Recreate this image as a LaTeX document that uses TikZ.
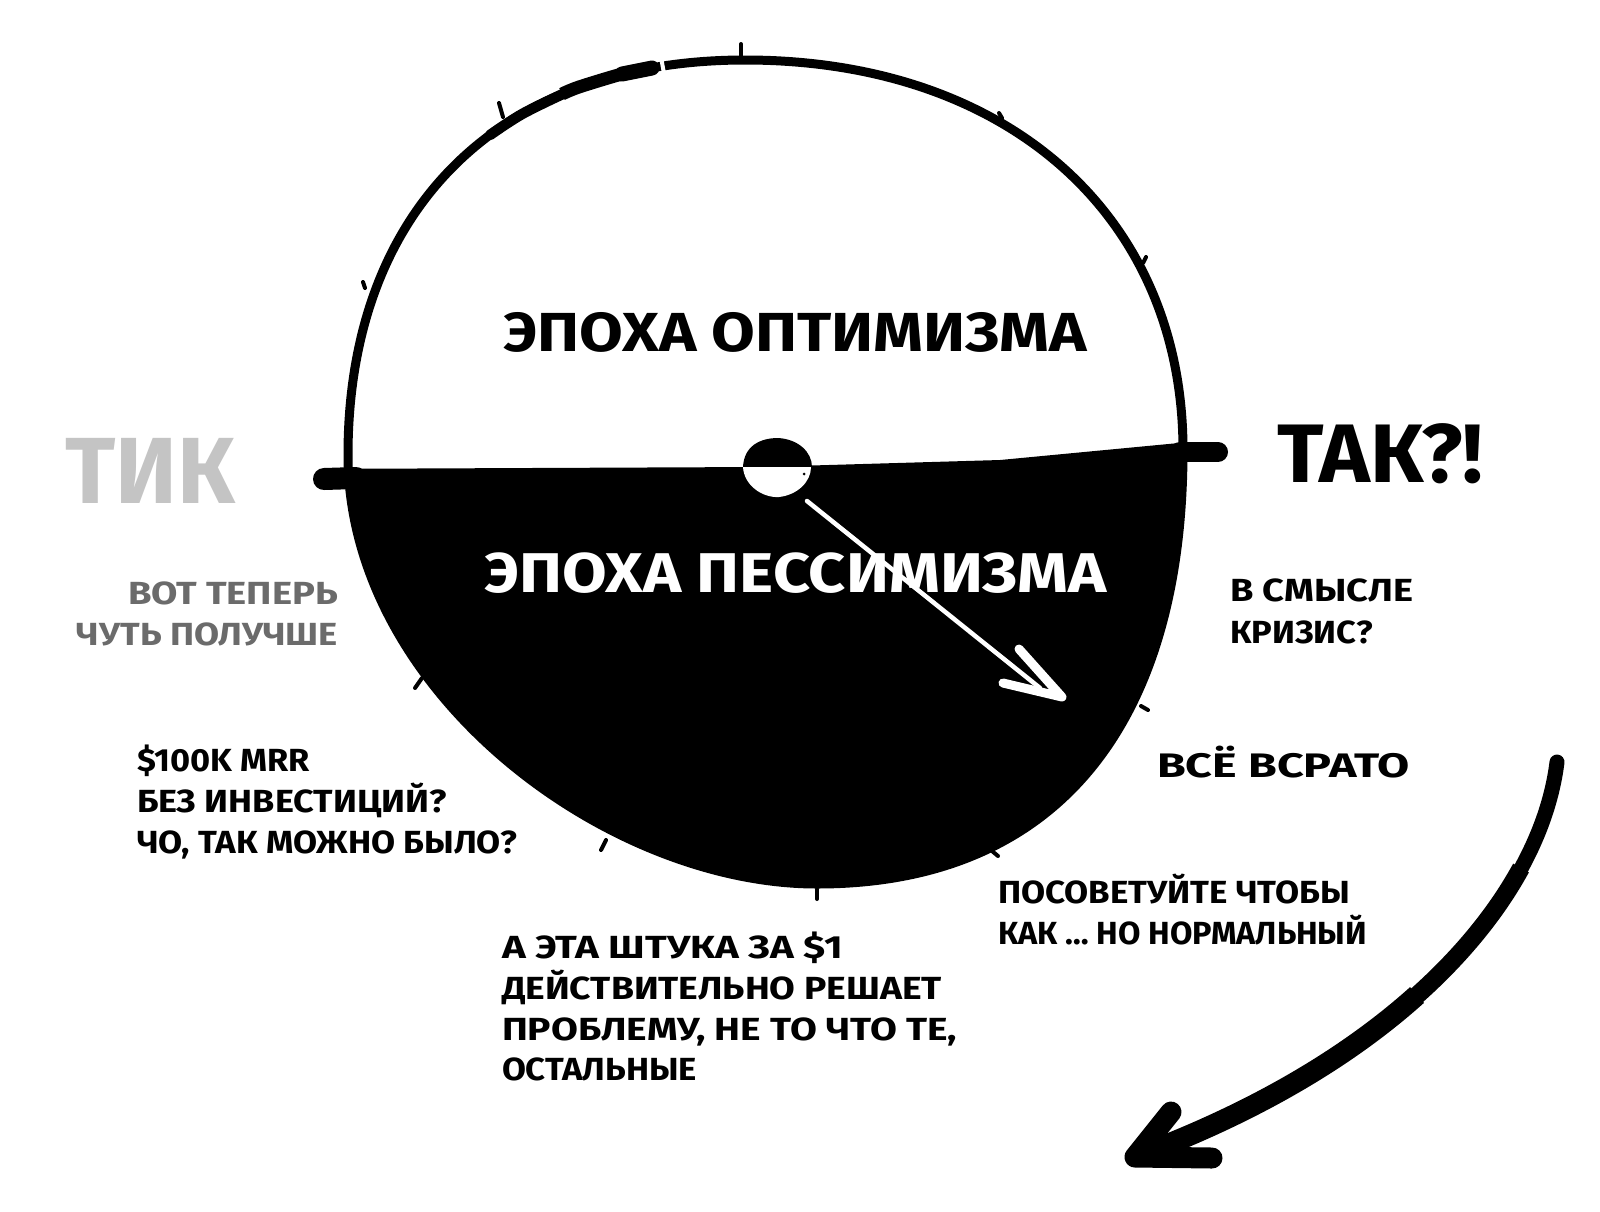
\documentclass[tikz,border=0pt]{standalone}
\usepackage{fontspec}
\setmainfont{Fira Sans}
\usepackage{graphicx}
\newcommand\fw[2]{\resizebox{#1pt}{\height}{#2}}
\definecolor{tikgray}{HTML}{C4C4C4}
\definecolor{midgray}{HTML}{6B6B6B}
\begin{document}
\begin{tikzpicture}[x=1pt,y=-1pt,
  lbl/.style={inner sep=0pt, outer sep=0pt, anchor=base west},
  small/.style={lbl, font=\fontsize{32}{41}\selectfont\bfseries},
  tk/.style={line width=4, line cap=round},
  rim/.style={line width=9, line cap=round, line join=round},
  brush/.style={line cap=round, line join=round}]
\fill[white] (0,0) rectangle (1600,1211);
\useasboundingbox (0,0) rectangle (1600,1211);

% black lower half
\begin{scope}
\clip (745,60) .. controls (1008,60) and (1183,216) .. (1183,450) .. controls (1183,720) and (1060,884) .. (817,884) .. controls (606,884) and (348,691) .. (348,455) .. controls (348,210) and (499,60) .. (745,60) -- cycle;
\fill (300,469) -- (760,467) -- (1000,460) -- (1200,441) -- (1250,441) -- (1250,950) -- (300,950) -- cycle;
\end{scope}

% rim
\draw[rim] (745,60) .. controls (1008,60) and (1183,216) .. (1183,450) .. controls (1183,720) and (1060,884) .. (817,884) .. controls (606,884) and (348,691) .. (348,455) .. controls (348,210) and (499,60) .. (745,60) -- cycle;
\draw[white, line width=4] (661,57) -- (665,79);
\draw[brush, line width=10.5] plot[smooth] coordinates {(490,135) (524,113) (579,87) (622,74) (652,68)};
\draw[brush, line width=13, line cap=butt] plot[smooth] coordinates {(562,94) (579,87) (622,74) (652,68)};
\draw[brush, line width=15] plot[smooth] coordinates {(622,74) (637,71) (652,68)};

% bar ends
\draw[line width=22, line cap=round] (324,479) -- (356,478);
\draw[line width=20, line cap=round] (1180,452) -- (1218,452);

% ticks
\draw[tk] (741,44) -- (741,58);
\draw[tk] (499,103) -- (503,117);
\draw[tk] (999,113) -- (1002,118);
\draw[tk] (1146,257) -- (1143,263);
\draw[tk] (363,282) -- (365,288);
\draw[tk] (422,678) -- (415,688);
\draw[tk] (606,840) -- (601,850);
\draw[tk] (817,889) -- (817,899);
\draw[tk] (992,851) -- (998,856);
\draw[tk] (1141,706) -- (1148,710);

% knob
\fill (743,467) .. controls (744,446) and (760,438) .. (778,438) .. controls (798,439) and (812,452) .. (812,467) -- cycle;
\fill[white] (743,467) .. controls (744,485) and (762,498) .. (779,497) .. controls (797,495) and (811,482) .. (811,467) -- cycle;
\fill (804,474) circle (1.5);

% clock hand
\coordinate (hs) at (807,501);
\coordinate (ht) at (1062,697);
\coordinate (hb1) at (1019,649);
\coordinate (hb2) at (1003,683);
\draw[white, line width=4.5, line cap=round] (hs) -- (1040,688);
\draw[white, brush, line width=9] (hb1) -- (ht) -- (hb2);

% big arrow (tapering brush stroke)
\coordinate (bs) at (1557,762);
\coordinate (bt) at (1135,1157);
\coordinate (bb1) at (1171,1112);
\coordinate (bb2) at (1212,1158);
\draw[brush, line width=15] (bs) .. controls (1540,900) and (1400,1060) .. (bt);
\draw[line width=18, line cap=butt] (1521,868) .. controls (1462,976) and (1334,1084) .. (bt);
\draw[line width=21, line cap=butt] (1417,995) .. controls (1348,1057) and (1254,1113) .. (bt);
\draw[brush, line width=21] (bb1) -- (bt) -- (bb2);

% texts
\node[lbl, font=\fontsize{55}{60}\selectfont\bfseries] (opt) at (503,351) {\fw{584}{ЭПОХА ОПТИМИЗМА}};
\node[lbl, text=white, font=\fontsize{56}{60}\selectfont\bfseries] (pes) at (484,592) {\fw{623}{ЭПОХА ПЕССИМИЗМА}};
\node[lbl, text=tikgray, font=\fontsize{94}{100}\selectfont\bfseries] (tik) at (65,503) {\fw{170}{ТИК}};
\node[lbl, font=\fontsize{83}{90}\selectfont\bfseries] (tak) at (1277,482) {\fw{206}{ТАК?!}};
\node[small, anchor=base east, text=midgray] (vot) at (338,604) {\begin{tabular}[t]{@{}r@{}}\fw{210}{ВОТ ТЕПЕРЬ}\\ \fw{261}{ЧУТЬ ПОЛУЧШЕ}\end{tabular}};
\node[small, font=\fontsize{32}{42}\selectfont\bfseries] (smysl) at (1230,601) {\begin{tabular}[t]{@{}l@{}}\fw{183}{В СМЫСЛЕ}\\ \fw{143}{КРИЗИС?}\end{tabular}};
\node[lbl, font=\fontsize{34}{40}\selectfont\bfseries] (vse) at (1157,777) {\fw{253}{ВСЁ ВСРАТО}};
\node[small] (mrr) at (137,771) {\begin{tabular}[t]{@{}l@{}}\fw{173}{\$100K MRR}\\ \fw{310}{БЕЗ ИНВЕСТИЦИЙ?}\\ \fw{380}{ЧО, ТАК МОЖНО БЫЛО?}\end{tabular}};
\node[small, font=\fontsize{32}{38.5}\selectfont\bfseries] (posov) at (998,903) {\begin{tabular}[t]{@{}l@{}}\fw{352}{ПОСОВЕТУЙТЕ ЧТОБЫ}\\ \fw{369}{КАК … НО НОРМАЛЬНЫЙ}\end{tabular}};
\node[small, font=\fontsize{32}{40.5}\selectfont\bfseries] (shtuka) at (502,958) {\begin{tabular}[t]{@{}l@{}}\fw{341}{А ЭТА ШТУКА ЗА \$1}\\ \fw{440}{ДЕЙСТВИТЕЛЬНО РЕШАЕТ}\\ \fw{455}{ПРОБЛЕМУ, НЕ ТО ЧТО ТЕ,}\\ \fw{195}{ОСТАЛЬНЫЕ}\end{tabular}};
\end{tikzpicture}
\end{document}
